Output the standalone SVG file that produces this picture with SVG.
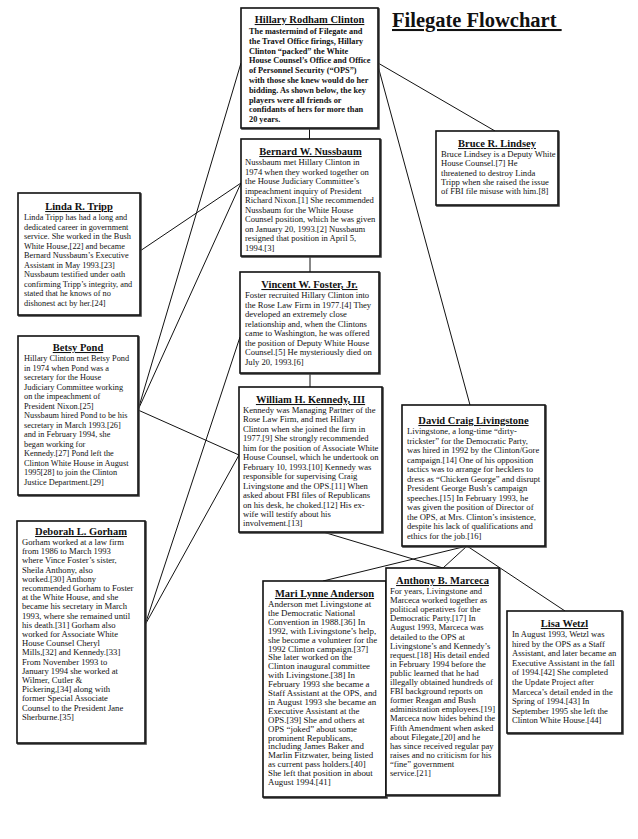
<svg xmlns="http://www.w3.org/2000/svg" width="638" height="839" viewBox="0 0 638 839" xml:space="preserve">
<defs>
<filter id="sh" x="-5%" y="-5%" width="115%" height="115%">
<feOffset in="SourceAlpha" dx="1.3" dy="1.3" result="o"/>
<feFlood flood-color="#444"/>
<feComposite in2="o" operator="in" result="s"/>
<feMerge><feMergeNode in="s"/><feMergeNode in="SourceGraphic"/></feMerge>
</filter>
</defs>
<style>
.bg{fill:#fff}
.box{fill:#fff;stroke:#111;stroke-width:1.6;filter:url(#sh)}
.conn line{stroke:#111;stroke-width:1}
.t{font-family:"Liberation Serif","Times New Roman",serif;font-weight:bold;font-size:10.5px;text-anchor:middle;text-decoration:underline;fill:#111}
.b{font-family:"Liberation Serif","Times New Roman",serif;font-size:8.6px;fill:#111}
.s{font-size:8.3px}
.m{font-size:8.9px}
.hb{font-weight:bold;font-size:8.3px}
.main{font-family:"Liberation Serif","Times New Roman",serif;font-weight:bold;font-size:20.5px;text-decoration:underline;fill:#111}
</style>
<rect class="bg" x="0" y="0" width="638" height="839"/>
<text class="main" x="392" y="27">Filegate Flowchart&#160;</text>
<g id="connectors" class="conn">
<line x1="309.5" y1="128" x2="309.5" y2="139"/>
<line x1="310" y1="256" x2="310" y2="272"/>
<line x1="310" y1="373" x2="310" y2="387"/>
<line x1="378" y1="63" x2="495" y2="131"/>
<line x1="378" y1="66" x2="470" y2="405"/>
<line x1="140" y1="251" x2="241" y2="183"/>
<line x1="138" y1="410" x2="241" y2="63"/>
<line x1="138" y1="410" x2="241" y2="183"/>
<line x1="138" y1="410" x2="239" y2="455"/>
<line x1="145" y1="625" x2="240" y2="337"/>
<line x1="145" y1="625" x2="239" y2="455"/>
<line x1="323" y1="532" x2="443" y2="568"/>
<line x1="467" y1="546" x2="323" y2="581"/>
<line x1="467" y1="546" x2="443" y2="568"/>
<line x1="467" y1="546" x2="565" y2="611"/>
</g>
<g id="hillary">
<rect class="box" x="241" y="8" width="137" height="120"/>
<text class="t" x="309.5" y="23">Hillary Rodham Clinton</text>
<text class="b hb" x="249" y="34">The mastermind of Filegate and</text>
<text class="b hb" x="249" y="43.8">the Travel Office firings, Hillary</text>
<text class="b hb" x="249" y="53.6">Clinton “packed” the White</text>
<text class="b hb" x="249" y="63.4">House Counsel’s Office and Office</text>
<text class="b hb" x="249" y="73.2">of Personnel Security (“OPS”)</text>
<text class="b hb" x="249" y="83">with those she knew would do her</text>
<text class="b hb" x="249" y="92.8">bidding.  As shown below, the key</text>
<text class="b hb" x="249" y="102.6">players were all friends or</text>
<text class="b hb" x="249" y="112.4">confidants of hers for more than</text>
<text class="b hb" x="249" y="122.2">20 years.</text>
</g>
<g id="nussbaum">
<rect class="box" x="241" y="139" width="139" height="117"/>
<text class="t" x="310.5" y="155">Bernard W. Nussbaum</text>
<text class="b" x="245" y="165">Nussbaum met Hillary Clinton in</text>
<text class="b" x="245" y="174.5">1974 when they worked together on</text>
<text class="b" x="245" y="184">the House Judiciary Committee’s</text>
<text class="b" x="245" y="193.5">impeachment inquiry of President</text>
<text class="b" x="245" y="203">Richard Nixon.[1]  She recommended</text>
<text class="b" x="245" y="212.5">Nussbaum for the White House</text>
<text class="b" x="245" y="222">Counsel position, which he was given</text>
<text class="b" x="245" y="231.5">on January 20, 1993.[2]  Nussbaum</text>
<text class="b" x="245" y="241">resigned that position in April 5,</text>
<text class="b" x="245" y="250.5">1994.[3]</text>
</g>
<g id="foster">
<rect class="box" x="240" y="272" width="139" height="101"/>
<text class="t" x="309.5" y="288">Vincent W. Foster, Jr.</text>
<text class="b" x="245" y="298">Foster recruited Hillary Clinton into</text>
<text class="b" x="245" y="307.5">the Rose Law Firm in 1977.[4]  They</text>
<text class="b" x="245" y="317">developed an extremely close</text>
<text class="b" x="245" y="326.5">relationship and, when the Clintons</text>
<text class="b" x="245" y="336">came to Washington, he was offered</text>
<text class="b" x="245" y="345.5">the position of Deputy White House</text>
<text class="b" x="245" y="355">Counsel.[5]  He mysteriously died on</text>
<text class="b" x="245" y="364.5">July 20, 1993.[6]</text>
</g>
<g id="kennedy">
<rect class="box" x="239" y="387" width="143" height="145"/>
<text class="t" x="310.5" y="403">William H. Kennedy, III</text>
<text class="b" x="243" y="413">Kennedy was Managing Partner of the</text>
<text class="b" x="243" y="422.45">Rose Law Firm, and met Hillary</text>
<text class="b" x="243" y="431.9">Clinton when she joined the firm in</text>
<text class="b" x="243" y="441.35">1977.[9]  She strongly recommended</text>
<text class="b" x="243" y="450.8">him for the position of Associate White</text>
<text class="b" x="243" y="460.25">House Counsel, which he undertook on</text>
<text class="b" x="243" y="469.7">February 10, 1993.[10]  Kennedy  was</text>
<text class="b" x="243" y="479.15">responsible for supervising Craig</text>
<text class="b" x="243" y="488.6">Livingstone and the OPS.[11]  When</text>
<text class="b" x="243" y="498.05">asked about FBI files of Republicans</text>
<text class="b" x="243" y="507.5">on his desk, he choked.[12]  His ex-</text>
<text class="b" x="243" y="516.95">wife will testify about his</text>
<text class="b" x="243" y="526.4">involvement.[13]</text>
</g>
<g id="bruce">
<rect class="box" x="436" y="131" width="122" height="74"/>
<text class="t" x="497" y="147">Bruce R. Lindsey</text>
<text class="b" x="441" y="157">Bruce Lindsey is a Deputy White</text>
<text class="b" x="441" y="166.3">House Counsel.[7]  He</text>
<text class="b" x="441" y="175.6">threatened to destroy Linda</text>
<text class="b" x="441" y="184.9">Tripp when she raised the issue</text>
<text class="b" x="441" y="194.2">of FBI file misuse with  him.[8]</text>
</g>
<g id="livingstone">
<rect class="box" x="402" y="405" width="143" height="141"/>
<text class="t" x="473.5" y="424">David Craig Livingstone</text>
<text class="b" x="407" y="434">Livingstone, a long-time “dirty-</text>
<text class="b" x="407" y="443.5">trickster” for the Democratic Party,</text>
<text class="b" x="407" y="453">was hired in 1992 by the Clinton/Gore</text>
<text class="b" x="407" y="462.5">campaign.[14]  One of his opposition</text>
<text class="b" x="407" y="472">tactics was to arrange for hecklers to</text>
<text class="b" x="407" y="481.5">dress as “Chicken George” and disrupt</text>
<text class="b" x="407" y="491">President George Bush’s campaign</text>
<text class="b" x="407" y="500.5">speeches.[15]  In February 1993, he</text>
<text class="b" x="407" y="510">was given the position of Director of</text>
<text class="b" x="407" y="519.5">the OPS, at Mrs. Clinton’s insistence,</text>
<text class="b" x="407" y="529">despite his lack of qualifications and</text>
<text class="b" x="407" y="538.5">ethics for the job.[16]</text>
</g>
<g id="tripp">
<rect class="box" x="18" y="193" width="122" height="122"/>
<text class="t" x="79" y="210">Linda R. Tripp</text>
<text class="b s" x="24" y="220">Linda Tripp has had a long and</text>
<text class="b s" x="24" y="229.5">dedicated career in government</text>
<text class="b s" x="24" y="239">service.  She worked in the Bush</text>
<text class="b s" x="24" y="248.5">White House,[22] and became</text>
<text class="b s" x="24" y="258">Bernard Nussbaum’s Executive</text>
<text class="b s" x="24" y="267.5">Assistant in May 1993.[23]</text>
<text class="b s" x="24" y="277">Nussbaum testified under oath</text>
<text class="b s" x="24" y="286.5">confirming Tripp’s integrity, and</text>
<text class="b s" x="24" y="296">stated that he knows of no</text>
<text class="b s" x="24" y="305.5">dishonest act by her.[24]</text>
</g>
<g id="pond">
<rect class="box" x="18" y="336" width="120" height="159"/>
<text class="t" x="78" y="351">Betsy Pond</text>
<text class="b s" x="24" y="361">Hillary Clinton met Betsy Pond</text>
<text class="b s" x="24" y="370.5">in 1974 when Pond was a</text>
<text class="b s" x="24" y="380">secretary for the House</text>
<text class="b s" x="24" y="389.5">Judiciary Committee working</text>
<text class="b s" x="24" y="399">on the impeachment of</text>
<text class="b s" x="24" y="408.5">President Nixon.[25]</text>
<text class="b s" x="24" y="418">Nussbaum hired Pond to be his</text>
<text class="b s" x="24" y="427.5">secretary in March 1993.[26]</text>
<text class="b s" x="24" y="437">and in February 1994, she</text>
<text class="b s" x="24" y="446.5">began working for</text>
<text class="b s" x="24" y="456">Kennedy.[27]  Pond left the</text>
<text class="b s" x="24" y="465.5">Clinton White House in August</text>
<text class="b s" x="24" y="475">1995[28] to join the Clinton</text>
<text class="b s" x="24" y="484.5">Justice Department.[29]</text>
</g>
<g id="gorham">
<rect class="box" x="17" y="521" width="128" height="222"/>
<text class="t" x="81" y="535">Deborah L. Gorham</text>
<text class="b" x="22" y="545">Gorham worked at a law firm</text>
<text class="b" x="22" y="554.2">from 1986 to March 1993</text>
<text class="b" x="22" y="563.4">where Vince Foster’s sister,</text>
<text class="b" x="22" y="572.6">Sheila Anthony, also</text>
<text class="b" x="22" y="581.8">worked.[30]  Anthony</text>
<text class="b" x="22" y="591">recommended Gorham to Foster</text>
<text class="b" x="22" y="600.2">at the White House, and she</text>
<text class="b" x="22" y="609.4">became his secretary in March</text>
<text class="b" x="22" y="618.6">1993, where she remained until</text>
<text class="b" x="22" y="627.8">his death.[31]  Gorham also</text>
<text class="b" x="22" y="637">worked for Associate White</text>
<text class="b" x="22" y="646.2">House Counsel Cheryl</text>
<text class="b" x="22" y="655.4">Mills,[32] and Kennedy.[33]</text>
<text class="b" x="22" y="664.6">From November 1993 to</text>
<text class="b" x="22" y="673.8">January 1994 she worked at</text>
<text class="b" x="22" y="683">Wilmer, Cutler &amp;</text>
<text class="b" x="22" y="692.2">Pickering,[34] along with</text>
<text class="b" x="22" y="701.4">former Special Associate</text>
<text class="b" x="22" y="710.6">Counsel to the President Jane</text>
<text class="b" x="22" y="719.8">Sherburne.[35]</text>
</g>
<g id="anderson">
<rect class="box" x="263" y="581" width="123" height="216"/>
<text class="t" x="324.5" y="597">Mari Lynne Anderson</text>
<text class="b m" x="268" y="607">Anderson met Livingstone at</text>
<text class="b m" x="268" y="615.9">the Democratic National</text>
<text class="b m" x="268" y="624.8">Convention in 1988.[36]  In</text>
<text class="b m" x="268" y="633.7">1992, with Livingstone’s help,</text>
<text class="b m" x="268" y="642.6">she become a volunteer for the</text>
<text class="b m" x="268" y="651.5">1992 Clinton campaign.[37]</text>
<text class="b m" x="268" y="660.4">She later worked on the</text>
<text class="b m" x="268" y="669.3">Clinton inaugural committee</text>
<text class="b m" x="268" y="678.2">with Livingstone.[38]  In</text>
<text class="b m" x="268" y="687.1">February 1993 she became a</text>
<text class="b m" x="268" y="696">Staff Assistant at the OPS, and</text>
<text class="b m" x="268" y="704.9">in August 1993 she became an</text>
<text class="b m" x="268" y="713.8">Executive Assistant at the</text>
<text class="b m" x="268" y="722.7">OPS.[39]  She and others at</text>
<text class="b m" x="268" y="731.6">OPS “joked” about some</text>
<text class="b m" x="268" y="740.5">prominent Republicans,</text>
<text class="b m" x="268" y="749.4">including James Baker and</text>
<text class="b m" x="268" y="758.3">Marlin Fitzwater, being listed</text>
<text class="b m" x="268" y="767.2">as current pass holders.[40]</text>
<text class="b m" x="268" y="776.1">She left that position in about</text>
<text class="b m" x="268" y="785">August 1994.[41]</text>
</g>
<g id="marceca">
<rect class="box" x="386" y="568" width="113" height="227"/>
<text class="t" x="442.5" y="584">Anthony B. Marceca</text>
<text class="b" x="390" y="594">For years, Livingstone and</text>
<text class="b" x="390" y="603.1">Marceca worked together as</text>
<text class="b" x="390" y="612.2">political operatives for the</text>
<text class="b" x="390" y="621.3">Democratic Party.[17]  In</text>
<text class="b" x="390" y="630.4">August 1993, Marceca was</text>
<text class="b" x="390" y="639.5">detailed to the OPS at</text>
<text class="b" x="390" y="648.6">Livingstone’s and Kennedy’s</text>
<text class="b" x="390" y="657.7">request.[18]  His detail ended</text>
<text class="b" x="390" y="666.8">in February 1994 before the</text>
<text class="b" x="390" y="675.9">public learned that he had</text>
<text class="b" x="390" y="685">illegally obtained hundreds of</text>
<text class="b" x="390" y="694.1">FBI background reports on</text>
<text class="b" x="390" y="703.2">former Reagan and Bush</text>
<text class="b" x="390" y="712.3">administration employees.[19]</text>
<text class="b" x="390" y="721.4">Marceca now hides behind the</text>
<text class="b" x="390" y="730.5">Fifth Amendment when asked</text>
<text class="b" x="390" y="739.6">about Filegate,[20]  and he</text>
<text class="b" x="390" y="748.7">has since received regular pay</text>
<text class="b" x="390" y="757.8">raises and no criticism for his</text>
<text class="b" x="390" y="766.9">“fine” government</text>
<text class="b" x="390" y="776">service.[21]</text>
</g>
<g id="wetzl">
<rect class="box" x="507" y="611" width="115" height="122"/>
<text class="t" x="564.5" y="627">Lisa Wetzl</text>
<text class="b" x="512" y="637">In August 1993, Wetzl was</text>
<text class="b" x="512" y="646.6">hired by the OPS as a Staff</text>
<text class="b" x="512" y="656.2">Assistant, and later became an</text>
<text class="b" x="512" y="665.8">Executive Assistant in the fall</text>
<text class="b" x="512" y="675.4">of 1994.[42]  She completed</text>
<text class="b" x="512" y="685">the Update Project after</text>
<text class="b" x="512" y="694.6">Marceca’s detail ended in the</text>
<text class="b" x="512" y="704.2">Spring of 1994.[43]  In</text>
<text class="b" x="512" y="713.8">September 1995 she left the</text>
<text class="b" x="512" y="723.4">Clinton White House.[44]</text>
</g>
</svg>
